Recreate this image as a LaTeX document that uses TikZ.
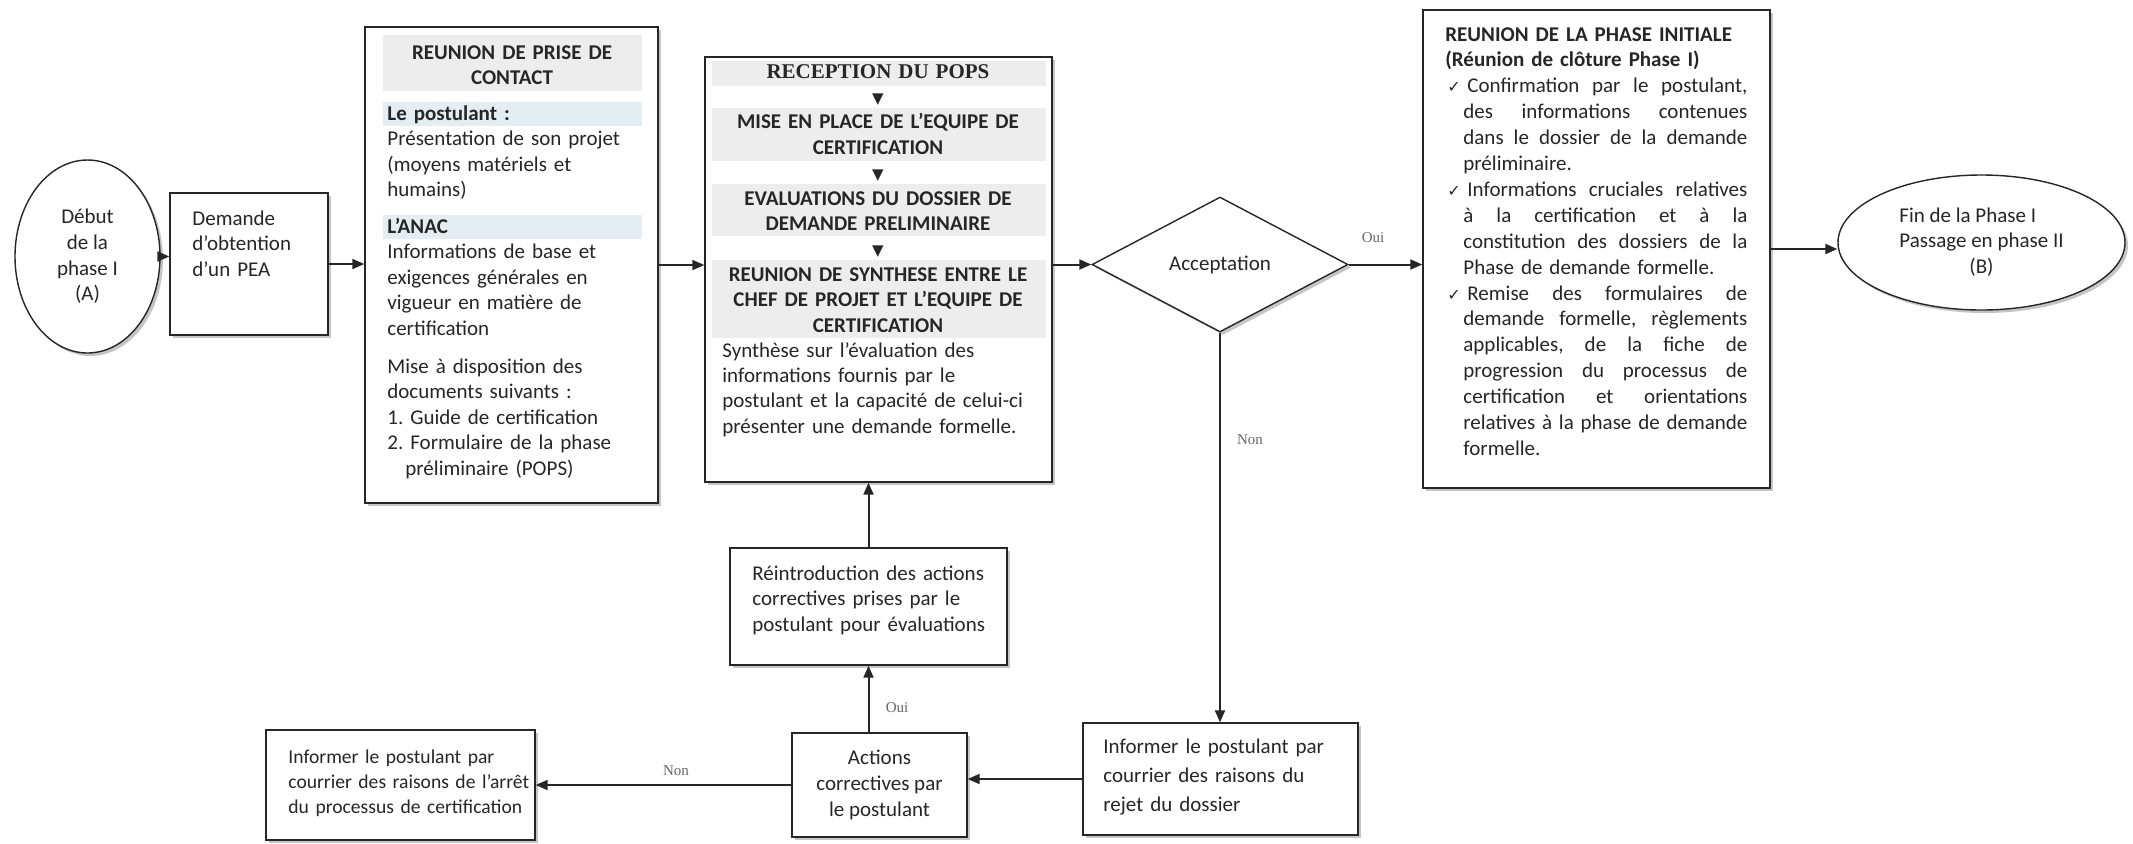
\documentclass[tikz,border=0pt]{standalone}
\usepackage{fontspec}
\setmainfont{Carlito}
\newfontfamily\tnrfont{Liberation Serif}
\newfontfamily\djvfont{DejaVu Sans}
\usetikzlibrary{shapes.geometric,arrows.meta,shadows}
\frenchspacing
\definecolor{ink}{HTML}{262626}
\definecolor{bandgray}{HTML}{EDEDED}
\definecolor{bandblue}{HTML}{E4EDF2}
\newcommand\txtsize{\fontsize{10.5}{12.8}\selectfont}
\newcommand\tri{{\djvfont\fontsize{7.5}{7.5}\selectfont ▼}}
\newcommand\gp{\hskip\fontdimen2\font plus 1fil\relax}
\newcommand\ckl[1]{\hspace*{1pt}\makebox[10pt][l]{\djvfont\fontsize{8}{8}\selectfont ✓}\hbox to 140pt{#1}}
\newcommand\jl[1]{\hspace*{9pt}\hbox to 142pt{#1}}
\newcommand\mkbox[5]{\node[box, minimum width={(#4-#2)*0.5pt}, minimum height={(#5-#3)*0.5pt}] (#1) at ({(#2+#4)/2},{(#3+#5)/2}) {};}
\begin{document}
\begin{tikzpicture}[x=0.5pt,y=-0.5pt,
  shd/.style={drop shadow={shadow xshift=1.5pt, shadow yshift=-1.5pt, fill=black!45}},
  box/.style={rectangle, draw=ink, line width=0.7pt, fill=white, inner sep=0pt, shd},
  ell/.style={ellipse, draw=ink, line width=0.7pt, fill=white, inner sep=0pt, align=center, font=\txtsize, text=black!85, shd},
  dia/.style={diamond, draw=ink, line width=0.7pt, fill=white, inner sep=0pt, font=\txtsize, text=black!85, shd},
  txt/.style={inner sep=0pt, anchor=base west, text width=#1, align=left, font=\txtsize, text=black!85},
  ctxt/.style={inner sep=0pt, anchor=base, text width=#1, align=center, font=\txtsize, text=black!85},
  lbl/.style={inner sep=0pt, font=\tnrfont\fontsize{7.5}{9}\selectfont, text=black!60},
  conn/.style={draw=ink, line width=1pt, -{Triangle[length=6pt,width=5pt]}}
]
\fill[white] (0,0) rectangle (2133,843);
\useasboundingbox (0,0) rectangle (2133,843);

% start ellipse
\node[ell, minimum width=72.5pt, minimum height=96.5pt] (A) at (87.5,256.5) {Début\\de la\\phase I\\(A)};

% demande
\mkbox{demande}{170}{193}{328}{335}
\node[txt=70pt] (demandetxt) at (192,225) {Demande\\d’obtention\\d’un PEA};

% contact
\mkbox{contact}{365}{27}{658}{503}
\fill[bandgray] (383,35) rectangle (642,91);
\fill[bandblue] (383,102) rectangle (642,126);
\fill[bandblue] (383,215) rectangle (642,239);
\node[ctxt=130pt, font=\txtsize\bfseries] (contacthead) at (512,59) {REUNION DE PRISE DE\\CONTACT};
\node[txt=135pt] (postulant) at (387,120) {\textbf{Le postulant :}\\Présentation de son projet\\(moyens matériels et\\humains)};
\node[txt=135pt] (anac) at (387,233) {\textbf{L’ANAC}\\Informations de base et\\exigences générales en\\vigueur en matière de\\certification};
\node[txt=135pt] (mise) at (387,373) {Mise à disposition des\\documents suivants :\\1. Guide de certification\\2. Formulaire de la phase\\\hspace*{9pt}préliminaire (POPS)};

% reception
\mkbox{reception}{705}{57}{1052}{482}
\fill[bandgray] (712,61) rectangle (1046,86);
\fill[bandgray] (712,108) rectangle (1046,161);
\fill[bandgray] (712,184) rectangle (1046,236);
\fill[bandgray] (712,260) rectangle (1046,338);
\node[ctxt=170pt, font=\fontsize{10.5}{12.7}\selectfont\bfseries] (recephead) at (878,78) {{\tnrfont RECEPTION DU POPS}\\\tri\\MISE EN PLACE DE L’EQUIPE DE\\CERTIFICATION\\\tri\\EVALUATIONS DU DOSSIER DE\\DEMANDE PRELIMINAIRE\\\tri\\REUNION DE SYNTHESE ENTRE LE\\CHEF DE PROJET ET L’EQUIPE DE\\CERTIFICATION};
\node[txt=165pt, font=\fontsize{10.5}{12.7}\selectfont] (synth) at (722,357) {Synthèse sur l’évaluation des\\informations fournis par le\\postulant et la capacité de celui-ci\\présenter une demande formelle.};

% decision
\node[dia, minimum width=128pt, minimum height=67.5pt] (acc) at (1220,264.5) {Acceptation};

% phase initiale
\mkbox{init}{1423}{10}{1770}{488}
\node[txt=160pt, font=\fontsize{10.5}{12.95}\selectfont] (inittxt) at (1445,41) {\textbf{REUNION DE LA PHASE INITIALE}\\
\textbf{(Réunion de clôture Phase I)}\\
\ckl{Confirmation\gp par\gp le\gp postulant,}\\
\jl{des\gp informations\gp contenues}\\
\jl{dans\gp le\gp dossier\gp de\gp la\gp demande}\\
\hspace*{9pt}préliminaire.\\
\ckl{Informations\gp cruciales\gp relatives}\\
\jl{à\gp la\gp certification\gp et\gp à\gp la}\\
\jl{constitution\gp des\gp dossiers\gp de\gp la}\\
\hspace*{9pt}Phase de demande formelle.\\
\ckl{Remise\gp des\gp formulaires\gp de}\\
\jl{demande\gp formelle,\gp règlements}\\
\jl{applicables,\gp de\gp la\gp fiche\gp de}\\
\jl{progression\gp du\gp processus\gp de}\\
\jl{certification\gp et\gp orientations}\\
\jl{relatives\gp à\gp la\gp phase\gp de\gp demande}\\
\hspace*{9pt}formelle.};

% end ellipse
\node[ell, minimum width=143.5pt, minimum height=67.5pt] (B) at (1981.5,242.5) {\begin{tabular}{@{}l@{}}Fin de la Phase I\\Passage en phase II\\\multicolumn{1}{@{}c@{}}{(B)}\end{tabular}};

% lower boxes
\mkbox{reintro}{730}{548}{1007}{665}
\node[txt=135pt] (reintrotxt) at (752,580) {Réintroduction des actions\\correctives prises par le\\postulant pour évaluations};

\node[box, minimum width=87.5pt, minimum height=52pt, align=center, font=\txtsize, text=black!85] (actions) at (879.5,785) {Actions\\correctives par\\le postulant};

\mkbox{rejet}{1083}{723}{1358}{835}
\node[txt=130pt, font=\fontsize{10.5}{14.5}\selectfont] (rejettxt) at (1103,753) {Informer le postulant par\\courrier des raisons du\\rejet du dossier};

\mkbox{arret}{266}{730}{535}{840}
\node[txt=130pt, font=\fontsize{9.8}{12.6}\selectfont] (arrettxt) at (288,763) {Informer le postulant par\\courrier des raisons de l’arrêt\\du processus de certification};

% connectors
\draw[conn] (A.east) -- (A.east -| demande.west);
\draw[conn] (demande.east) -- (demande.east -| contact.west);
\draw[conn] (contact.east) -- (contact.east -| reception.west);
\draw[conn] (reception.east |- acc.west) -- (acc.west);
\draw[conn] (acc.east) -- (acc.east -| init.west);
\node[lbl] (oui1) at (1373,238) {Oui};
\draw[conn] (init.east) -- (init.east -| B.west);
\draw[conn] (acc.south) -- (acc.south |- rejet.north);
\node[lbl] (non1) at (1250,440) {Non};
\draw[conn] (rejet.west) -- (rejet.west -| actions.east);
\draw[conn] (actions.west) -- (actions.west -| arret.east);
\node[lbl] (non2) at (676,771) {Non};
\draw[conn] (reintro.south |- actions.north) -- (reintro.south);
\node[lbl] (oui2) at (897,708) {Oui};
\draw[conn] (reintro.north) -- (reintro.north |- reception.south);
\end{tikzpicture}
\end{document}
